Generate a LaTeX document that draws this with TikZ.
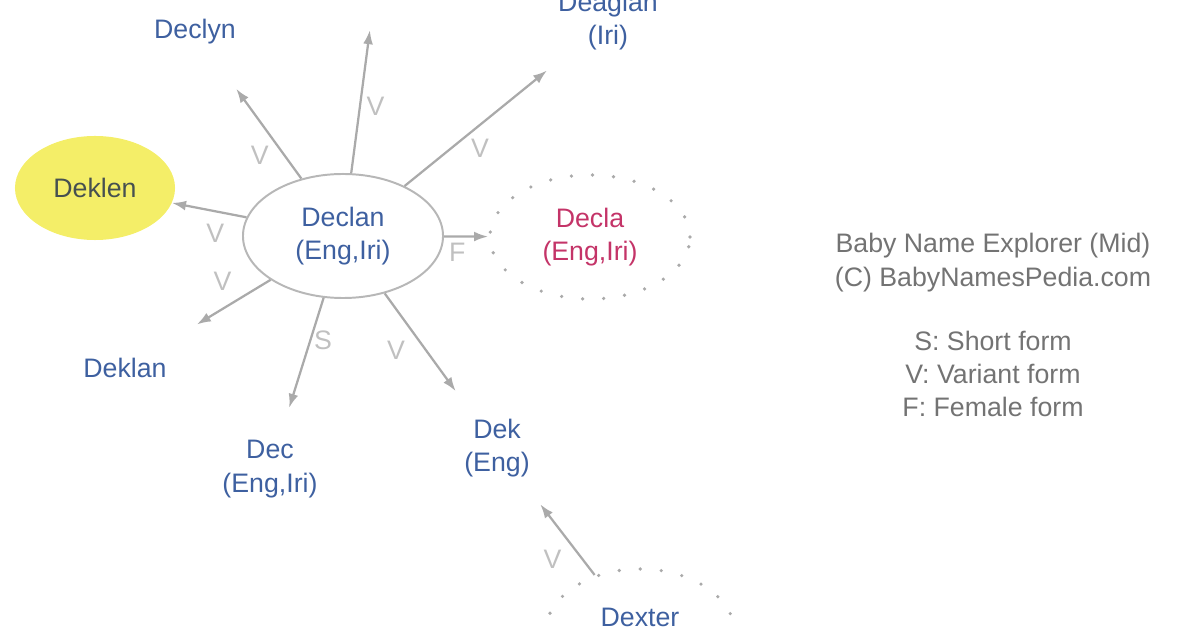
\documentclass[tikz,border=0pt]{standalone}
\usepackage{fontspec}
\setmainfont{Liberation Sans}
\usetikzlibrary{shapes.geometric,arrows.meta}
\definecolor{NameBlue}{RGB}{62,96,160}
\definecolor{FemRed}{RGB}{196,52,104}
\definecolor{EdgeGray}{RGB}{170,170,170}
\definecolor{TagGray}{RGB}{192,192,192}
\definecolor{NoteGray}{RGB}{115,115,115}
\definecolor{HiYellow}{RGB}{244,238,104}
\tikzstyle{NameBase}=[ellipse, minimum width=5cm, minimum height=3.1cm, inner sep=0pt, align=center, text=NameBlue, font=\fontsize{19}{24}\selectfont]
\tikzstyle{MainName}=[NameBase, draw=EdgeGray!85, line width=1.4pt]
\tikzstyle{OtherName}=[NameBase, draw=EdgeGray, line width=2.6pt, line cap=round, dash pattern=on 0pt off 15pt]
\tikzstyle{FocusName}=[NameBase, fill=HiYellow, minimum width=4cm, minimum height=2.6cm, text={rgb,255:red,70;green,80;blue,80}]
\tikzstyle{NameLink}=[-{Latex[length=10pt,width=7pt]}, draw=EdgeGray, line width=1.6pt]
\tikzstyle{LinkTag}=[text=TagGray, inner sep=2pt, font=\fontsize{19}{24}\selectfont]
\tikzstyle{Legend}=[align=center, text=NoteGray, font=\fontsize{19}{23.5}\selectfont]

\begin{document}
\begin{tikzpicture}[x=0.025cm, y=-0.025cm]
			\useasboundingbox (0,0) rectangle (1196,628);

			%Nodes
			\node[MainName]		(declan)	at (343,236)	{Declan\\(Eng,Iri)};
			\node[FocusName]	(deklen)	at (95,188)		{Deklen};
			\node[NameBase]		(declyn)	at (195,32)		{Declyn};
			\node[NameBase]		(upper)		at (378,-32)	{};
			\node[NameBase]		(deaglan)	at (608,21)		{Deaglan\\(Iri)};
			\node[OtherName, text=FemRed]	(decla)	at (590,237)	{Decla\\(Eng,Iri)};
			\node[NameBase]		(deklan)	at (125,368)	{Deklan};
			\node[NameBase]		(dec)		at (270,469)	{Dec\\(Eng,Iri)};
			\node[NameBase]		(dek)		at (497,448)	{Dek\\(Eng)};
			\node[OtherName, minimum width=4.75cm, minimum height=3.25cm]	(dexter)	at (640,634)	{Dexter\\\mbox{}};

			\node[Legend]		(legend)	at (993,325)	{Baby Name Explorer (Mid)\\(C) BabyNamesPedia.com\\[22pt]S: Short form\\V: Variant form\\F: Female form};

			%Lines
			\draw[NameLink] (declan) -- (declyn) node[LinkTag, pos=.42, below left=1pt] {V};
			\draw[NameLink] (declan) -- (upper) node[LinkTag, pos=.47, right=2pt] {V};
			\draw[NameLink] (declan) -- (deaglan) node[LinkTag, pos=.44, below right=0pt] {V};
			\draw[NameLink] (declan) -- (deklen) node[LinkTag, pos=.42, below=6pt] {V};
			\draw[NameLink] (declan) -- (decla) node[LinkTag, pos=.3, below=2pt] {F};
			\draw[NameLink] (declan) -- (deklan) node[LinkTag, pos=.42, above left=3pt] {V};
			\draw[NameLink] (declan) -- (dec) node[LinkTag, pos=.39, right=0pt] {S};
			\draw[NameLink] (declan) -- (dek) node[LinkTag, pos=.4, below left=3pt] {V};
			\draw[NameLink] (dexter) -- (dek) node[LinkTag, pos=.46, below left=3pt] {V};

		\end{tikzpicture}
\end{document}
